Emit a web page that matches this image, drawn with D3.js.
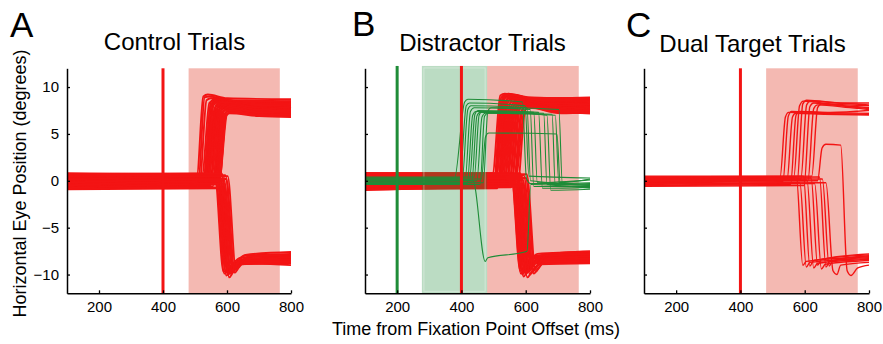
<!DOCTYPE html>
<html><head><meta charset="utf-8">
<script src="https://cdn.jsdelivr.net/npm/d3@7"></script>
<style>
body{margin:0;background:#fff}
svg{display:block}
text{font-family:"Liberation Sans",Arial,Helvetica,sans-serif;fill:#000}
</style></head>
<body><svg id="chart" width="883" height="344"></svg>
<script>
// ---------- data ----------
const xTicks = [200, 400, 600, 800];
const yTicks = [-10, -5, 0, 5, 10];
const yTickLabels = ["\u221210", "\u22125", "0", "5", "10"];
const panelLetters = ["A", "B", "C"];
const panelTitles = ["Control Trials", "Distractor Trials", "Dual Target Trials"];
const xLabel = "Time from Fixation Point Offset (ms)";
const yLabel = "Horizontal Eye Position (degrees)";
const targetOnset = 400;
const distractorOnset = 200;
const targetWindow = [480, 765];
const distractorWindow = [277, 480];

// Panel A: control trials (time ms, eye position deg)
const controlUp = [
[[100,0.5],[506,0.6],[526,9.0],[540,9.2],[600,8.8],[800,8.7]],
[[100,0.2],[511,0.3],[530,8.9],[545,9.0],[610,8.6],[800,8.5]],
[[100,-0.3],[515,0.1],[536,8.6],[550,8.8],[620,8.4],[800,8.3]],
[[100,0.7],[522,0.6],[545,8.3],[560,8.6],[640,8.2],[800,8.4]],
[[100,-0.6],[525,-0.4],[549,8.0],[565,8.5],[650,8.0],[800,8.0]],
[[100,0.6],[527,0.5],[550,8.4],[566,8.8],[650,8.4],[800,8.5]],
[[100,0.0],[528,0.1],[552,8.2],[568,8.6],[660,8.1],[800,7.9]],
[[100,0.4],[531,0.4],[555,7.9],[570,8.4],[660,7.8],[800,7.7]],
[[100,-0.3],[533,-0.2],[557,8.3],[572,8.7],[660,8.3],[800,8.2]],
[[100,-0.8],[534,-0.6],[558,8.1],[573,8.5],[660,8.2],[800,8.1]],
[[100,0.3],[537,0.2],[561,7.7],[576,8.2],[660,7.6],[800,7.5]],
[[100,-0.2],[540,-0.3],[564,7.9],[580,8.3],[670,7.9],[800,7.8]],
[[100,0.4],[542,0.4],[566,8.1],[581,8.5],[670,8.0],[800,8.1]],
[[100,0.6],[543,0.5],[567,7.6],[582,8.0],[670,7.4],[800,7.3]],
[[100,-0.5],[546,-0.5],[570,7.8],[585,8.2],[670,7.7],[800,7.6]],
[[100,-0.6],[548,-0.5],[572,8.0],[586,8.4],[680,7.9],[800,7.7]],
[[100,0.1],[549,0.0],[573,7.5],[588,7.9],[680,7.3],[800,7.2]],
[[100,0.8],[552,0.7],[576,7.7],[590,8.1],[680,7.6],[800,7.9]],
[[100,-0.7],[555,-0.6],[579,7.3],[594,7.8],[680,7.2],[800,7.1]],
[[100,0.1],[556,0.2],[580,7.9],[594,8.2],[690,7.8],[800,7.6]],
[[100,0.3],[558,0.3],[582,7.6],[596,8.0],[690,7.5],[800,7.4]],
[[100,-0.1],[561,-0.1],[585,7.2],[599,7.6],[690,7.0],[800,6.9]],
[[100,-0.2],[562,-0.2],[586,7.8],[600,8.1],[690,7.6],[800,7.5]],
[[100,0.5],[564,0.4],[588,7.4],[602,7.8],[690,7.3],[800,7.2]],
[[100,-0.4],[567,-0.4],[591,7.0],[604,7.4],[700,7.0],[800,7.0]],
[[100,0.7],[568,0.6],[592,7.6],[604,7.9],[700,7.4],[800,7.4]],
[[100,0.0],[570,0.1],[594,7.2],[606,7.5],[700,7.1],[800,7.3]],
[[100,-0.9],[573,-0.8],[597,6.9],[608,7.2],[700,6.9],[800,6.8]],
[[100,-0.8],[574,-0.7],[598,7.4],[608,7.7],[700,7.3],[800,7.2]],
[[100,0.2],[576,0.2],[600,7.1],[610,7.3],[700,7.0],[800,7.1]]
];
const controlDown = [
[[100,0.3],[562,0.6],[589,-9.7],[600,-9.5],[625,-8.7],[800,-8.4]],
[[100,-0.4],[565,0.2],[592,-9.9],[604,-9.6],[630,-8.8],[800,-8.6]],
[[100,0.6],[568,0.7],[595,-9.6],[607,-9.3],[632,-8.5],[800,-8.3]],
[[100,0.0],[571,0.4],[598,-10.1],[610,-9.7],[636,-8.9],[800,-8.8]],
[[100,-0.7],[574,-0.2],[601,-9.8],[613,-9.4],[640,-8.6],[800,-8.5]],
[[100,-0.6],[575,-0.1],[603,-10.0],[614,-9.6],[640,-8.8],[800,-9.0]],
[[100,0.4],[577,0.6],[604,-9.5],[616,-9.0],[642,-8.2],[800,-8.0]],
[[100,-0.1],[580,0.3],[607,-10.3],[618,-9.8],[645,-8.9],[800,-8.7]],
[[100,0.7],[583,0.8],[610,-9.7],[622,-9.2],[648,-8.4],[800,-8.1]],
[[100,0.6],[584,0.7],[611,-9.9],[622,-9.5],[648,-8.7],[800,-8.6]],
[[100,-0.5],[586,0.0],[613,-9.9],[625,-9.4],[650,-8.6],[800,-8.6]],
[[100,0.2],[589,0.5],[616,-9.4],[628,-8.9],[652,-8.0],[800,-7.8]],
[[100,-0.8],[592,-0.3],[619,-9.6],[630,-9.1],[655,-8.3],[800,-8.2]],
[[100,0.5],[595,0.6],[621,-9.3],[633,-8.8],[658,-7.9],[800,-7.6]],
[[100,-0.2],[598,0.2],[624,-9.8],[636,-9.3],[660,-8.5],[800,-8.4]],
[[100,0.1],[602,0.5],[628,-9.5],[640,-9.0],[665,-8.1],[800,-7.9]]
];

// Panel B: distractor trials
const distractorRedUp = [
[[100,0.8],[497,0.8],[521,9.1],[535,9.3],[600,8.9],[800,8.8]],
[[100,-0.6],[500,-0.5],[524,8.9],[538,9.2],[610,8.7],[800,8.6]],
[[100,0.3],[503,0.3],[527,8.7],[541,9.1],[620,8.5],[800,8.7]],
[[100,-0.2],[506,-0.1],[530,8.5],[544,9.0],[630,8.4],[800,8.3]],
[[100,0.2],[507,0.2],[530,9.0],[545,9.3],[610,8.9],[800,8.8]],
[[100,0.6],[509,0.6],[533,8.8],[547,9.2],[620,8.8],[800,8.9]],
[[100,-0.9],[512,-0.8],[536,8.3],[550,8.8],[640,8.2],[800,8.1]],
[[100,-0.4],[513,-0.4],[537,9.1],[551,9.2],[630,8.7],[800,8.6]],
[[100,0.1],[515,0.1],[539,8.6],[553,9.0],[640,8.5],[800,8.4]],
[[100,0.5],[518,0.5],[542,8.2],[556,8.7],[650,8.0],[800,7.9]],
[[100,0.4],[520,0.4],[544,8.9],[558,9.1],[640,8.6],[800,8.5]],
[[100,-0.4],[521,-0.3],[545,8.4],[559,8.9],[650,8.3],[800,8.2]],
[[100,0.2],[524,0.2],[548,8.0],[562,8.5],[660,7.9],[800,7.8]],
[[100,-0.7],[527,-0.6],[551,8.3],[565,8.8],[660,8.1],[800,8.0]],
[[100,0.7],[530,0.7],[554,7.9],[568,8.4],[670,7.7],[800,7.6]],
[[100,-0.1],[533,0.0],[557,8.1],[571,8.6],[670,8.0],[800,8.2]],
[[100,0.4],[536,0.4],[560,7.8],[574,8.3],[680,7.6],[800,7.5]],
[[100,-0.5],[539,-0.4],[563,8.0],[577,8.5],[680,7.9],[800,7.7]],
[[100,0.0],[542,0.0],[566,7.7],[580,8.2],[690,7.5],[800,7.4]],
[[100,0.8],[545,0.7],[569,7.9],[583,8.4],[690,7.8],[800,7.9]],
[[100,-0.3],[548,-0.3],[572,7.6],[586,8.1],[700,7.4],[800,7.3]],
[[100,0.3],[551,0.3],[575,7.8],[589,8.3],[700,7.7],[800,7.6]],
[[100,-0.8],[554,-0.7],[578,7.5],[592,8.0],[700,7.3],[800,7.2]],
[[100,0.5],[558,0.5],[582,7.7],[596,8.2],[710,7.6],[800,7.8]],
[[100,-0.2],[562,-0.2],[586,7.4],[600,7.9],[710,7.2],[800,7.3]],
[[100,0.1],[566,0.1],[590,7.6],[604,8.1],[720,7.5],[800,7.4]],
[[100,0.6],[570,0.6],[594,7.3],[607,7.8],[720,7.3],[800,7.2]],
[[100,-0.6],[574,-0.6],[598,7.5],[610,7.9],[720,7.4],[800,7.5]]
];
const distractorRedDown = [
[[100,0.5],[555,0.7],[583,-9.6],[595,-9.2],[620,-8.3],[800,-8.1]],
[[100,-0.3],[557,0.0],[585,-9.9],[597,-9.4],[622,-8.6],[800,-8.4]],
[[100,0.2],[559,0.5],[587,-9.4],[599,-9.0],[624,-8.0],[800,-7.8]],
[[100,-0.7],[561,-0.4],[589,-10.0],[601,-9.5],[626,-8.7],[800,-8.6]],
[[100,0.7],[563,0.8],[591,-9.7],[603,-9.2],[628,-8.2],[800,-8.0]],
[[100,0.0],[565,0.3],[593,-10.2],[605,-9.7],[630,-8.8],[800,-8.7]],
[[100,-0.5],[567,-0.2],[595,-9.5],[607,-9.0],[632,-8.1],[800,-7.9]],
[[100,0.4],[569,0.6],[597,-9.8],[609,-9.3],[634,-8.5],[800,-8.3]],
[[100,-0.1],[571,0.2],[599,-9.3],[611,-8.8],[636,-7.8],[800,-7.6]],
[[100,0.6],[573,0.7],[601,-9.9],[613,-9.4],[638,-8.6],[800,-8.5]],
[[100,-0.9],[575,-0.5],[603,-9.6],[615,-9.1],[640,-8.3],[800,-8.2]],
[[100,0.3],[577,0.5],[605,-10.3],[617,-9.8],[642,-8.9],[800,-8.8]],
[[100,-0.4],[579,-0.1],[607,-9.4],[619,-8.9],[644,-8.0],[800,-7.7]],
[[100,0.1],[581,0.4],[609,-9.7],[621,-9.2],[646,-8.4],[800,-8.2]],
[[100,0.8],[583,0.8],[611,-9.5],[623,-9.0],[648,-8.2],[800,-8.0]],
[[100,-0.6],[585,-0.3],[613,-10.0],[625,-9.5],[650,-8.7],[800,-8.5]],
[[100,0.2],[588,0.5],[616,-9.3],[628,-8.8],[652,-7.9],[800,-7.5]],
[[100,-0.2],[591,0.1],[619,-9.8],[631,-9.3],[655,-8.5],[800,-8.4]],
[[100,0.5],[594,0.6],[622,-9.6],[634,-9.1],[658,-8.3],[800,-8.1]],
[[100,-1.0],[597,-0.6],[625,-9.9],[637,-9.4],[660,-8.6],[800,-8.6]],
[[100,0.0],[600,0.3],[628,-9.4],[640,-8.9],[662,-8.0],[800,-7.8]],
[[100,0.6],[603,0.7],[631,-9.7],[643,-9.2],[665,-8.4],[800,-8.3]]
];
const distractorGreen = [
[[100,0.2],[378,0.2],[410,8.4],[420,8.7],[590,8.4],[602,0.3],[615,-0.3],[800,-0.2]],
[[100,0.3],[395,0.3],[415,8.0],[425,8.3],[598,8.0],[610,0.5],[800,0.3]],
[[100,-0.1],[402,0.0],[420,7.6],[430,8.0],[604,7.8],[615,0.0],[800,-0.4]],
[[100,0.3],[412,0.3],[428,7.4],[440,7.8],[614,7.6],[625,-0.6],[800,-0.6]],
[[100,-0.3],[418,-0.3],[435,7.0],[445,7.4],[625,7.3],[636,-0.2],[800,0.1]],
[[100,0.1],[425,0.1],[442,7.1],[452,7.5],[640,7.3],[652,-0.8],[800,-0.7]],
[[100,-0.2],[432,-0.2],[448,6.9],[458,7.3],[656,7.2],[666,-0.4],[800,-0.3]],
[[100,0.4],[440,0.4],[455,7.0],[465,7.4],[666,7.0],[678,-1.0],[800,-0.9]],
[[100,0.0],[448,0.0],[464,6.8],[474,7.2],[682,7.1],[692,-0.5],[800,-0.6]],
[[100,-0.4],[458,-0.4],[472,6.9],[482,7.2],[692,7.0],[703,-0.2],[800,0.2]],
[[100,0.2],[462,0.2],[475,4.7],[485,5.1],[697,5.0],[708,-0.6],[800,-0.5]],
[[100,-0.2],[468,-0.2],[482,7.4],[492,7.8],[703,7.6],[714,-0.3],[800,-0.5]],
[[100,0.0],[436,0.0],[474,-8.6],[482,-8.2],[596,-7.6],[604,-7.5],[616,-0.4],[800,-0.8]]
];

// Panel C: dual target trials
const dualUp = [
[[100,0.3],[523,0.3],[540,6.8],[550,7.3],[620,7.2],[800,7.1]],
[[100,-0.2],[532,-0.1],[549,6.9],[559,7.4],[640,7.3],[800,7.2]],
[[100,0.1],[545,0.1],[562,6.8],[572,7.2],[660,7.1],[800,7.0]],
[[100,-0.5],[556,-0.4],[573,7.0],[583,7.4],[680,7.3],[800,7.5]],
[[100,0.4],[566,0.4],[584,8.0],[596,8.5],[680,8.2],[800,8.0]],
[[100,-0.3],[576,-0.3],[594,8.2],[606,8.6],[700,8.3],[800,8.1]],
[[100,0.2],[588,0.2],[606,8.1],[618,8.5],[720,8.3],[800,8.3]],
[[100,-0.6],[598,-0.5],[616,7.9],[628,8.3],[720,8.0],[800,7.8]],
[[100,0.0],[610,0.0],[628,7.7],[640,8.1],[740,7.8],[800,7.6]],
[[100,0.5],[622,0.5],[640,7.8],[652,8.2],[740,7.9],[800,7.7]],
[[100,-0.1],[640,0.0],[654,3.5],[666,3.9],[712,3.8],[732,-9.6],[744,-10.1],[765,-9.3],[800,-9.0]]
];
const dualDown = [
[[100,0.2],[574,0.4],[594,-9.0],[605,-8.6],[800,-8.1]],
[[100,-0.4],[585,-0.2],[605,-9.2],[616,-8.7],[800,-8.3]],
[[100,0.4],[596,0.5],[616,-9.1],[628,-8.5],[800,-7.9]],
[[100,-0.1],[607,0.1],[628,-9.3],[640,-8.8],[800,-8.4]],
[[100,0.1],[620,0.3],[640,-9.0],[652,-8.4],[800,-7.8]],
[[100,-0.5],[631,-0.3],[652,-9.4],[664,-8.9],[800,-8.5]],
[[100,0.3],[646,0.4],[666,-9.2],[678,-8.6],[800,-8.0]],
[[100,0.0],[655,0.2],[676,-9.1],[688,-8.5],[800,-8.2]],
[[100,-0.3],[666,-0.2],[688,-9.6],[700,-10.0],[712,-9.0],[800,-8.7]]
];

// ---------- drawing ----------
const RED = "#f31414", GREEN = "#1f8c38", RED_SHADE = "#f4b9b2";
const svg = d3.select("#chart");
const panelX = [[67, 291], [365, 590], [644, 869]];
const yRange = [293.3, 68.3];
const line = (x, y) => d3.line().x(d => x(d[0])).y(d => y(d[1])).curve(d3.curveMonotoneX);

const panels = [
  {red: [...controlUp, ...controlDown], green: [], shadeG: false, vlines: [[targetOnset, RED]], rw: 1.9},
  {red: [...distractorRedUp, ...distractorRedDown], green: distractorGreen, shadeG: true, vlines: [[distractorOnset, GREEN], [targetOnset, RED]], rw: 1.9},
  {red: [...dualUp, ...dualDown], green: [], shadeG: false, vlines: [[targetOnset, RED]], rw: 1.4}
];

panels.forEach((p, i) => {
  const x = d3.scaleLinear().domain([100, 800]).range(panelX[i]);
  const y = d3.scaleLinear().domain([-12, 12]).range(yRange);
  const g = svg.append("g");
  const top = i === 1 ? 12.25 : 12;
  g.append("rect").attr("x", x(targetWindow[0])).attr("width", x(targetWindow[1]) - x(targetWindow[0]))
    .attr("y", y(top)).attr("height", y(-12) - y(top)).attr("fill", RED_SHADE);
  const lg = line(x, y);
  g.append("g").selectAll("path").data(p.red).join("path")
    .attr("d", lg).attr("fill", "none").attr("stroke", RED).attr("stroke-width", p.rw)
    .attr("stroke-linejoin", "round");
  if (p.shadeG) {
    g.append("rect").attr("x", x(distractorWindow[0])).attr("width", x(distractorWindow[1]) - x(distractorWindow[0]))
      .attr("y", y(top)).attr("height", y(-12) - y(top)).attr("fill", GREEN).attr("fill-opacity", 0.3);
    g.append("rect").attr("x", x(distractorWindow[0]) + 2).attr("width", x(distractorWindow[1]) - x(distractorWindow[0]) - 4)
      .attr("y", y(top) + 2).attr("height", y(-12) - y(top) - 4).attr("fill", "none")
      .attr("stroke", "#fff").attr("stroke-opacity", 0.35).attr("stroke-width", 1);
  }
  g.append("g").selectAll("path").data(p.green).join("path")
    .attr("d", lg).attr("fill", "none").attr("stroke", GREEN).attr("stroke-width", 1.1);
  p.vlines.forEach(([t, c]) => {
    g.append("line").attr("x1", x(t)).attr("x2", x(t)).attr("y1", y(top)).attr("y2", y(-12))
      .attr("stroke", c).attr("stroke-width", 3);
  });
  // axes
  const xa = g.append("g").attr("transform", `translate(0,${yRange[0]})`)
    .call(d3.axisBottom(x).tickValues(xTicks).tickSizeInner(-3).tickSizeOuter(0).tickPadding(8));
  const ya = g.append("g").attr("transform", `translate(${panelX[i][0]},0)`)
    .call(d3.axisLeft(y).tickValues(yTicks).tickSizeInner(-3).tickSizeOuter(0).tickPadding(8)
      .tickFormat((d, k) => i === 0 ? yTickLabels[k] : ""));
  [xa, ya].forEach(a => {
    a.select(".domain").attr("stroke", "#000").attr("stroke-width", 1.5);
    a.selectAll(".tick line").attr("stroke", "#000").attr("stroke-width", 1.3);
    a.selectAll("text").style("font-size", "15px").style("font-family", '"Liberation Sans",Arial,sans-serif').attr("fill", "#000");
  });
});

// titles & labels
const titlePos = [[174.5, 50], [482.5, 50.5], [752.5, 51.5]];
const letterPos = [[10, 37], [352, 36], [626, 37]];
panelTitles.forEach((t, i) => {
  svg.append("text").attr("x", titlePos[i][0]).attr("y", titlePos[i][1]).attr("text-anchor", "middle")
    .style("font-size", "24px").text(t);
  svg.append("text").attr("x", letterPos[i][0]).attr("y", letterPos[i][1])
    .style("font-size", "35px").text(panelLetters[i]);
});
svg.append("text").attr("transform", "translate(26,183.5) rotate(-90)").attr("text-anchor", "middle")
  .style("font-size", "18px").text(yLabel);
svg.append("text").attr("x", 476).attr("y", 335).attr("text-anchor", "middle")
  .style("font-size", "18px").text(xLabel);
</script></body></html>
